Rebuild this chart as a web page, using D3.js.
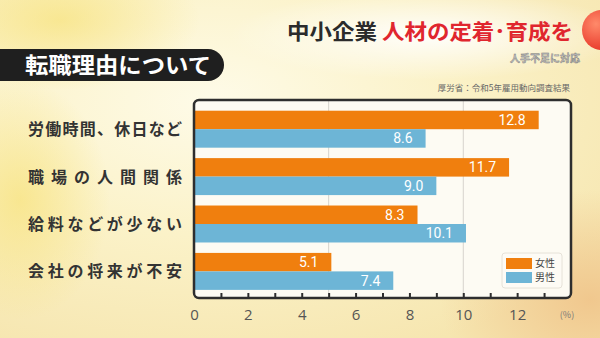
<!DOCTYPE html>
<html><head><meta charset="utf-8">
<script src="https://cdn.jsdelivr.net/npm/d3@7"></script>
<style>
html,body{margin:0;padding:0;width:600px;height:338px;overflow:hidden;}
svg{display:block;font-family:"Noto Sans CJK JP","Noto Sans",sans-serif;}
</style></head>
<body>
<script>
const categories = ["労働時間、休日など","職場の人間関係","給料などが少ない","会社の将来が不安"];
const seriesNames = ["女性","男性"];
const female = [12.8, 11.7, 8.3, 5.1];
const male = [8.6, 9.0, 10.1, 7.4];
const tickLabels = [0,2,4,6,8,10,12];
const gridValues = [5,10];
const colors = ["#f07f0e","#6db5d6"];
const title1 = "中小企業";
const title2 = "人材の定着･育成を";
const subtitle = "人手不足に対応";
const heading = "転職理由について";
const source = "厚労省：令和5年雇用動向調査結果";

const W=600,H=338;
const svg=d3.select("body").append("svg").attr("width",W).attr("height",H);
const defs=svg.append("defs");
const g1=defs.append("radialGradient").attr("id","bg1").attr("cx","0.35").attr("cy","0.3").attr("r","0.8");
g1.append("stop").attr("offset","0").attr("stop-color","#fefbe8");
g1.append("stop").attr("offset","0.5").attr("stop-color","#fbf2c8");
g1.append("stop").attr("offset","1").attr("stop-color","#f6e6b0");
svg.append("rect").attr("width",W).attr("height",H).attr("fill","url(#bg1)");
const g2=defs.append("radialGradient").attr("id","bg2").attr("cx","0.5").attr("cy","0.5").attr("r","0.5");
g2.append("stop").attr("offset","0").attr("stop-color","#f0c48a").attr("stop-opacity",0.9);
g2.append("stop").attr("offset","1").attr("stop-color","#f0c48a").attr("stop-opacity",0);
svg.append("ellipse").attr("cx",590).attr("cy",300).attr("rx",150).attr("ry",110).attr("fill","url(#bg2)");
const g3=defs.append("radialGradient").attr("id","bg3").attr("cx","0.5").attr("cy","0.5").attr("r","0.5");
g3.append("stop").attr("offset","0").attr("stop-color","#f7e27a").attr("stop-opacity",0.7);
g3.append("stop").attr("offset","1").attr("stop-color","#f7e27a").attr("stop-opacity",0);
svg.append("ellipse").attr("cx",60).attr("cy",20).attr("rx",140).attr("ry",70).attr("fill","url(#bg3)");
svg.append("ellipse").attr("cx",20).attr("cy",200).attr("rx",90).attr("ry",120).attr("fill","url(#bg3)");
const g4=defs.append("radialGradient").attr("id","bg4").attr("cx","0.5").attr("cy","0.5").attr("r","0.5");
g4.append("stop").attr("offset","0").attr("stop-color","#ffffff").attr("stop-opacity",0.95);
g4.append("stop").attr("offset","1").attr("stop-color","#ffffff").attr("stop-opacity",0);
svg.append("ellipse").attr("cx",430).attr("cy",35).attr("rx",200).attr("ry",45).attr("fill","url(#bg4)");

// red circle
const g5=defs.append("radialGradient").attr("id","rc").attr("cx","0.35").attr("cy","0.35").attr("r","0.7");
g5.append("stop").attr("offset","0").attr("stop-color","#ff8a6a");
g5.append("stop").attr("offset","1").attr("stop-color","#e8382a");
svg.append("circle").attr("cx",602).attr("cy",30).attr("r",20).attr("fill","url(#rc)");

// title
const t=svg.append("text").attr("x",287).attr("y",39)
  .attr("font-size",21).attr("font-weight",700).attr("textLength",286).attr("lengthAdjust","spacingAndGlyphs");
t.append("tspan").attr("fill","#2b2b2b").text(title1+" ");
t.append("tspan").attr("fill","#e0262e").text(title2);
svg.append("text").attr("x",580).attr("y",62).attr("text-anchor","end").attr("font-size",10)
  .attr("font-weight",700).attr("fill","#bdbdbd").attr("stroke","#777").attr("stroke-width",0.4).text(subtitle);

// heading pill
svg.append("rect").attr("x",-30).attr("y",49).attr("width",254).attr("height",32).attr("rx",16).attr("fill","#1f1f1f");
svg.append("text").attr("x",25).attr("y",73).attr("font-size",22).attr("font-weight",700).attr("fill","#fff")
  .attr("textLength",186).attr("lengthAdjust","spacingAndGlyphs").text(heading);

// source
svg.append("text").attr("x",570).attr("y",91).attr("text-anchor","end").attr("font-size",8.5)
  .attr("fill","#666").text(source);

// plot box
const L=194,R=571,T=100,B=298;
svg.append("rect").attr("x",L).attr("y",T).attr("width",R-L).attr("height",B-T).attr("rx",5)
  .attr("fill","#fdfbf3");

const x=d3.scaleLinear().domain([0,14]).range([L,R]);
const y=d3.scaleBand().domain(categories).range([105.5,295.1]).paddingInner(0.22).paddingOuter(0.11);
const ys=d3.scaleBand().domain(seriesNames).range([0,y.bandwidth()]);

svg.append("g").selectAll("line").data(gridValues).join("line")
  .attr("x1",d=>x(d)).attr("x2",d=>x(d)).attr("y1",T).attr("y2",B)
  .attr("stroke","#d6d3cc").attr("stroke-width",1);

const data=categories.map((c,i)=>({c,vals:[female[i],male[i]]}));
const grp=svg.append("g").selectAll("g").data(data).join("g").attr("transform",d=>`translate(0,${y(d.c)})`);
grp.selectAll("rect").data(d=>d.vals.map((v,j)=>({v,s:seriesNames[j],j}))).join("rect")
  .attr("x",x(0)).attr("y",d=>ys(d.s)).attr("width",d=>x(d.v)-x(0)).attr("height",ys.bandwidth())
  .attr("fill",d=>colors[d.j]);
grp.selectAll("text").data(d=>d.vals.map((v,j)=>({v,s:seriesNames[j],j}))).join("text")
  .attr("x",d=>x(d.v)-13).attr("y",d=>ys(d.s)+ys.bandwidth()/2+5).attr("text-anchor","end")
  .attr("font-size",14).attr("fill","#fff").attr("font-family","Roboto,'Noto Sans',sans-serif")
  .text(d=>d3.format(".1f")(d.v));

// category labels
svg.append("g").selectAll("text").data(categories).join("text")
  .attr("x",28).attr("y",d=>y(d)+y.bandwidth()/2+6).attr("font-size",16).attr("font-weight",700)
  .attr("fill","#333").attr("textLength",154).attr("lengthAdjust","spacing").text(d=>d);

// border
svg.append("rect").attr("x",L).attr("y",T).attr("width",R-L).attr("height",B-T).attr("rx",5)
  .attr("fill","none").attr("stroke","#2e2e2e").attr("stroke-width",2.5);

// axis
const ax=d3.axisBottom(x).tickValues(d3.range(0,14)).tickSize(0).tickFormat(()=>"");
const axg=svg.append("g").attr("transform",`translate(0,${B})`).call(ax);
axg.select(".domain").remove();
axg.selectAll(".tick line").attr("y1",-1).attr("y2",-5).attr("stroke","#2e2e2e").attr("stroke-width",2);
axg.selectAll(".tick").filter(d=>d===0).remove();
const ax2=d3.axisBottom(x).tickValues(tickLabels).tickSize(0).tickPadding(0).tickFormat(d3.format("d"));
const axg2=svg.append("g").attr("transform",`translate(0,${B+22})`).call(ax2);
axg2.select(".domain").remove();
axg2.selectAll("text").attr("font-size",15).attr("fill","#555").attr("dy",0)
  .attr("font-family","'Open Sans','Noto Sans',sans-serif");
svg.append("text").attr("x",567).attr("y",318).attr("text-anchor","middle").attr("font-size",9).attr("fill","#777").text("(%)");

// legend
const lg=svg.append("g");
lg.append("rect").attr("x",502).attr("y",253).attr("width",60).attr("height",35).attr("rx",3)
  .attr("fill","#fdfbf5").attr("stroke","#e6e2d8");
seriesNames.forEach((s,i)=>{
  lg.append("rect").attr("x",506).attr("y",258+i*14).attr("width",26).attr("height",11).attr("fill",colors[i]);
  lg.append("text").attr("x",535).attr("y",267+i*14).attr("font-size",10).attr("fill","#444").text(s);
});
</script>
</body></html>
